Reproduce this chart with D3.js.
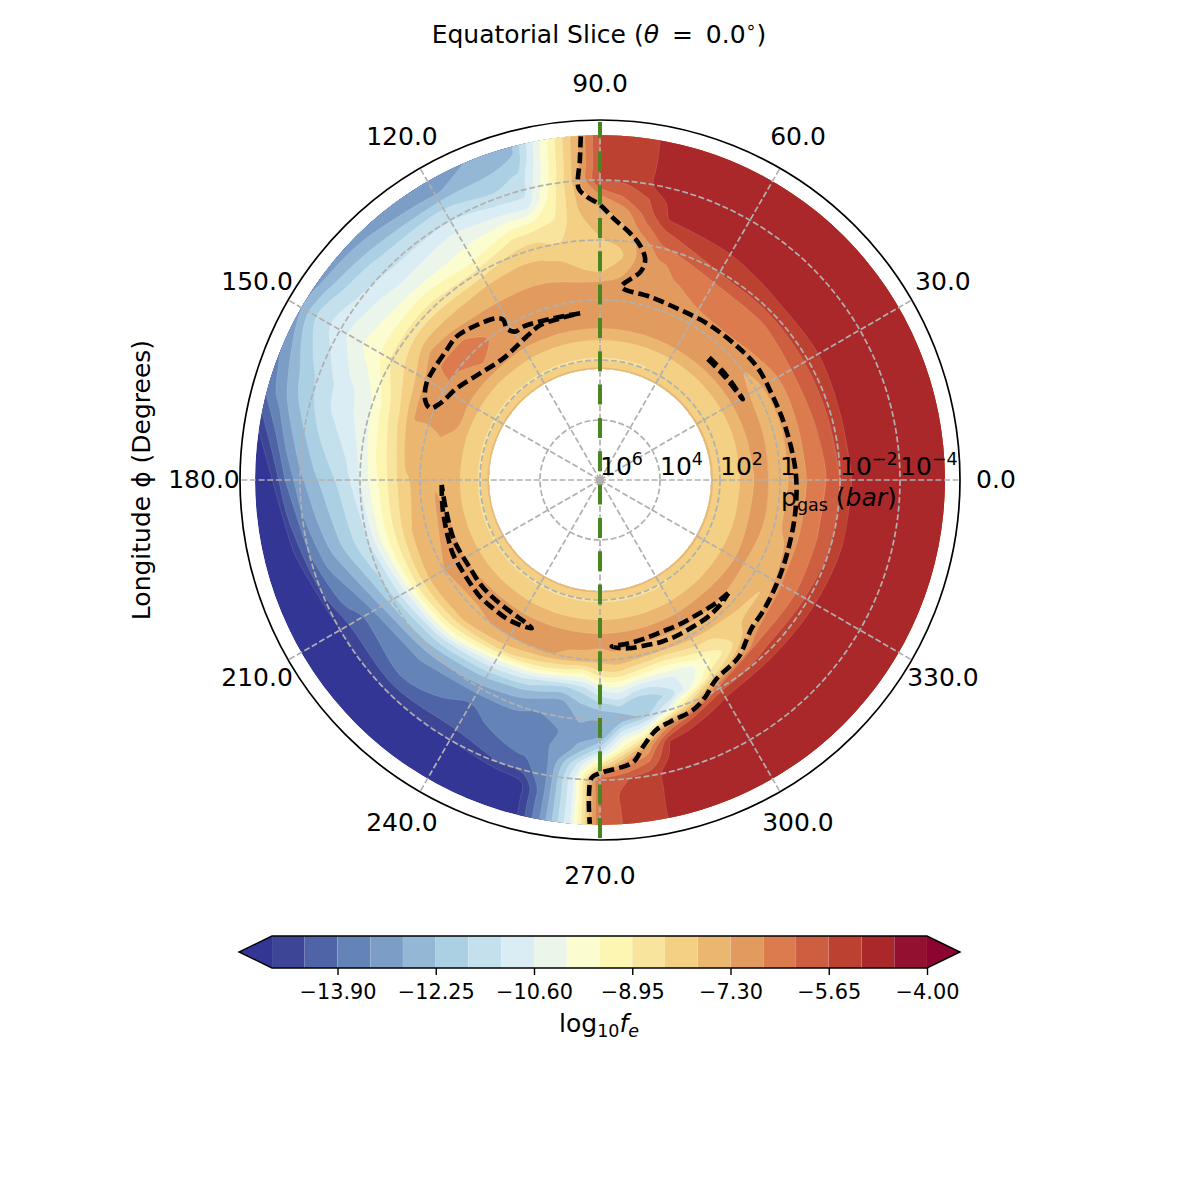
<!DOCTYPE html>
<html>
<head>
<meta charset="utf-8">
<script src="https://cdn.jsdelivr.net/npm/d3@7"></script>
<style>
  html, body { margin: 0; background: #fff; }
  text { font-family: "DejaVu Sans", sans-serif; fill: #000; }
</style>
</head>
<body>
<svg id="chart" width="1200" height="1200"></svg>
<script>
"use strict";

// contour levels of log10 fe, one colour per band plus the two extensions
const levels = [-15, -14.45, -13.9, -13.35, -12.8, -12.25, -11.7, -11.15, -10.6, -10.05,
    -9.5, -8.95, -8.4, -7.85, -7.3, -6.75, -6.2, -5.65, -5.1, -4.55, -4];
const bandColors = ["#3d4696", "#4e64a6", "#6484b8", "#7b9dc6", "#94b7d6", "#acd0e3", "#c4e0ec",
    "#daedf4", "#ebf5ea", "#fbfdd0", "#fdf6b3", "#f8e49d", "#f3d083", "#ebb670", "#e29b5e",
    "#dc7c4e", "#cd5e40", "#bd4131", "#aa272a", "#931030"];
const underColor = "#343695";
const overColor = "#8c0430";

// grid
const logPressure = [4.3, 4, 3.5, 3, 2.5, 2, 1.5, 1, 0.5, 0, -0.5, -1, -1.5, -2, -2.5, -3, -3.5];
const longitudes = [0, 15, 30, 45, 60, 70, 75, 80, 85, 90, 95, 100, 105, 110, 120, 135, 143, 150, 160, 165,
    180, 195, 210, 225, 240, 250, 255, 260, 265, 270, 275, 280, 285, 290, 300, 315, 330, 345];
const logFe = [
    [-7.7, -8.3, -8.1, -7.33, -7.22, -7.55, -7.1, -6.65, -6.25, -5.65, -4.95, -4.75, -4.7, -4.7, -4.7, -4.7, -4.7],
    [-7.7, -8.3, -8.1, -7.33, -7.15, -7.65, -7.05, -6.6, -6.1, -5.5, -4.85, -4.7, -4.7, -4.7, -4.7, -4.7, -4.7],
    [-7.7, -8.3, -8.1, -7.33, -7.1, -7.5, -7.05, -6.6, -6.05, -5.5, -5, -4.75, -4.7, -4.7, -4.7, -4.7, -4.7],
    [-7.7, -8.3, -8.1, -7.33, -7.05, -7.05, -6.75, -6.5, -6.25, -5.5, -5, -4.75, -4.7, -4.7, -4.7, -4.7, -4.7],
    [-7.7, -8.35, -8.1, -7.33, -6.95, -6.9, -6.78, -6.55, -6.35, -5.6, -5.25, -4.85, -4.7, -4.7, -4.7, -4.7, -4.7],
    [-7.7, -8.45, -8.1, -7.33, -7, -6.95, -6.85, -6.8, -6.6, -6.1, -5.4, -4.95, -4.7, -4.7, -4.7, -4.7, -4.7],
    [-7.7, -8.45, -8.1, -7.33, -7, -6.95, -6.9, -6.9, -6.85, -6.3, -5.75, -5.05, -4.85, -4.7, -4.7, -4.7, -4.7],
    [-7.7, -8.45, -8.1, -7.33, -7, -6.95, -6.95, -7, -7.15, -7.1, -6.45, -5.95, -5.65, -5.12, -5.12, -5.12, -5.1],
    [-7.7, -8.45, -8.1, -7.33, -7.05, -7, -7.05, -7.55, -8, -7.7, -7.4, -7, -6.1, -5.55, -5.4, -5.4, -5.4],
    [-7.7, -8.45, -8.1, -7.33, -7.05, -7, -7.1, -7.95, -8.1, -7.9, -7.7, -7.4, -6.75, -5.6, -5.65, -5.65, -5.65],
    [-7.7, -8.45, -8.1, -7.33, -7.05, -7.05, -7.15, -7.8, -8.15, -8.1, -8, -7.9, -7.85, -7.7, -7.75, -7.8, -7.85],
    [-7.7, -8.45, -8.1, -7.33, -7.05, -7.05, -7.2, -7.45, -7.95, -8.4, -8.75, -9.05, -9.25, -9.5, -9.75, -9.85, -10],
    [-7.7, -8.45, -8.1, -7.33, -7.05, -7.05, -7.15, -7.4, -7.8, -8.15, -8.8, -9.7, -10.9, -11.35, -11.6, -12.15, -12.35],
    [-7.7, -8.45, -8.1, -7.33, -7.05, -7, -7.1, -7.4, -7.75, -8.2, -8.9, -9.8, -10.8, -11.5, -12, -12.4, -12.65],
    [-7.7, -8.45, -8.1, -7.33, -7.1, -7, -7.1, -7.4, -7.85, -8.7, -9.65, -10.1, -10.55, -11.2, -11.8, -12.85, -13.1],
    [-7.7, -8.45, -8.1, -7.33, -6.75, -6.55, -6.72, -7.3, -7.95, -8.7, -9.45, -10.3, -10.75, -11.25, -11.75, -12.5, -13.15],
    [-7.7, -8.45, -8.1, -7.33, -7, -6.72, -6.72, -7.15, -8, -8.75, -9.5, -10.1, -10.55, -11.05, -11.5, -12.25, -13.05],
    [-7.7, -8.45, -8.1, -7.33, -7.05, -6.78, -6.85, -7.75, -8.35, -8.85, -9.6, -9.95, -10.4, -10.85, -11.25, -11.8, -12.85],
    [-7.7, -8.45, -8.1, -7.33, -7.1, -7.1, -7.2, -8.25, -9.05, -9.95, -10.45, -10.8, -11.2, -11.6, -12.05, -12.75, -13.5],
    [-7.7, -8.45, -8.1, -7.33, -7.3, -7.55, -7.45, -8.4, -9.25, -10.1, -10.6, -10.95, -11.3, -11.85, -12.35, -13.1, -13.8],
    [-7.7, -8.45, -8.1, -7.33, -7.32, -7.6, -7.95, -8.8, -9.65, -10.6, -11.4, -11.85, -12.35, -12.95, -13.9, -15.2, -16.5],
    [-7.7, -8.45, -8.1, -7.33, -7.25, -7.5, -7.85, -8.8, -9.85, -11.15, -11.8, -12.45, -13.1, -13.95, -15.2, -16.2, -16.8],
    [-7.7, -8.45, -8.1, -7.33, -7.25, -7.3, -7.7, -8.85, -10.7, -12, -12.95, -13.8, -14.2, -15, -16, -16.5, -17],
    [-7.7, -8.45, -8.1, -7.33, -7.2, -7.35, -7.8, -9.2, -11.35, -12.6, -13.35, -13.65, -14.05, -15, -16, -16.5, -17],
    [-7.7, -8.45, -8.1, -7.33, -7.2, -7.25, -8.15, -10.5, -12.05, -13, -13.85, -14.1, -14.3, -15, -16, -16.5, -17],
    [-7.7, -8.45, -8.1, -7.33, -7.2, -7.3, -8.7, -11, -12.45, -13.25, -13.55, -13.7, -14, -14.45, -15.7, -16, -16.5],
    [-7.7, -8.45, -8.1, -7.33, -7.2, -7.3, -9, -11.5, -12.75, -13.35, -13.5, -13.65, -13.85, -14.3, -15.3, -15.4, -15.5],
    [-7.7, -8.45, -8.1, -7.33, -7.2, -7.4, -9.3, -11.8, -12.95, -13.2, -13.4, -13.3, -13.3, -13.3, -13.3, -13.3, -13.3],
    [-7.7, -8.45, -8.1, -7.33, -7.2, -7.45, -9.6, -11.5, -12.3, -12.75, -13, -12.7, -11.3, -10.6, -10.6, -10.6, -10.6],
    [-7.7, -8.45, -8.1, -7.33, -7.2, -7.6, -8.75, -10.6, -11.95, -12.8, -13, -11.4, -8.95, -6, -6, -6.05, -6.1],
    [-7.7, -8.45, -8.1, -7.33, -7.2, -7.4, -8.6, -10.3, -11.55, -12.7, -10.85, -9.25, -7, -5.7, -5.5, -5.5, -5.5],
    [-7.7, -8.45, -8.1, -7.33, -7.2, -7.5, -8.95, -10.8, -12.2, -12.1, -10, -7.3, -6.25, -5.3, -5.25, -5.2, -5.2],
    [-7.7, -8.45, -8.1, -7.33, -7.2, -7.65, -9.2, -10.9, -11.9, -10.9, -7, -5.1, -4.8, -4.75, -4.8, -4.85, -4.85],
    [-7.7, -8.45, -8.1, -7.33, -7.2, -7.7, -9.3, -10.65, -11.05, -8.9, -5.8, -4.75, -4.7, -4.7, -4.7, -4.7, -4.7],
    [-7.7, -8.45, -8.1, -7.33, -7.2, -7.6, -8.6, -9.75, -8.6, -5.9, -4.85, -4.7, -4.7, -4.7, -4.7, -4.7, -4.7],
    [-7.7, -8.35, -8.1, -7.33, -7.2, -7.6, -8.05, -7.5, -6.25, -5.4, -4.75, -4.7, -4.7, -4.7, -4.7, -4.7, -4.7],
    [-7.7, -8.3, -8.1, -7.33, -7.25, -7.7, -7.75, -6.7, -6.25, -5.45, -4.8, -4.7, -4.7, -4.7, -4.7, -4.7, -4.7],
    [-7.7, -8.3, -8.1, -7.33, -7.2, -7.55, -7.1, -6.65, -6.2, -5.65, -4.9, -4.7, -4.7, -4.7, -4.7, -4.7, -4.7]
];

// black dashed contours, longitude and log10 pressure
const mainLon = [93.2, 93.6, 94.2, 92.7, 90, 87, 83, 80.3, 78.4, 79, 83.6, 74.7, 64.8, 55.8, 45.7, 35.9, 25.7, 15, 2,
    350.3, 338.6, 329.7, 321.5, 315.6, 312.5, 308, 300, 296, 292, 286.2, 282.8, 279.2, 276.7, 270, 268.4, 268, 268.3];
const mainP = [-3.47, -2.69, -1.75, -1.46, -1.17, -0.73, -0.28, 0.07, 0.51, 0.93, 1.52, 1.67, 1.73, 1.68, 1.63, 1.55, 1.6, 1.57, 1.47,
    1.4, 1.3, 1.17, 1.03, 0.93, 0.77, 0.5, 0.3, -0.03, -0.27, -0.39, -0.53, -1, -1.47, -1.77, -1.93, -2.57, -3.47];
const upperLon = [96.8, 106.1, 116.6, 119.8, 121.6, 121.1, 122.6, 129.6, 135, 139.7, 146.6, 150.9, 155.4, 157.1, 154.4, 147.4, 138.4, 128.5, 117.1, 111.2, 103.9, 96.8];
const upperP = [2.4, 2.39, 2.28, 2.3, 2.07, 1.77, 1.6, 1.37, 1.24, 1.3, 1.34, 1.38, 1.59, 1.85, 2.09, 2.33, 2.65, 2.82, 2.63, 2.47, 2.45, 2.4];
const rightLon = [48.3, 40.8, 29.5, 40.8, 48.3];
const rightP = [2.53, 2.53, 2.53, 2.6, 2.6];
const leftLon = [181.8, 190.2, 201, 207, 213, 218.5, 224.2, 230.3, 236, 241.1, 245.3, 242.9, 237.8, 231.8, 225.4, 219.9, 214.2, 208.5, 201.7, 191, 181.8];
const leftP = [2.72, 2.67, 2.58, 2.51, 2.5, 2.47, 2.42, 2.43, 2.43, 2.48, 2.56, 2.63, 2.68, 2.7, 2.7, 2.72, 2.77, 2.76, 2.74, 2.77, 2.72];
const lowerLon = [318.6, 312.8, 305.6, 298.4, 292.1, 285.9, 279.8, 274, 279.6, 285.8, 290.9, 296.8, 302.5, 308.4, 314.6, 318.6];
const lowerP = [2.3, 2.37, 2.47, 2.51, 2.54, 2.51, 2.47, 2.43, 2.31, 2.28, 2.23, 2.21, 2.21, 2.19, 2.23, 2.3];

// axes
const lonTicks = d3.range(0, 360, 30);
const pTickExp = [6, 4, 2, 0, -2, -4];
const feTicks = [-13.9, -12.25, -10.6, -8.95, -7.3, -5.65, -4];
const lonMarker = [270, 90];

const svg = d3.select("#chart");
const cx = 600, cy = 480;

// pressure falls outwards, 1e8 bar sits at the centre
const rScale = d3.scaleLinear().domain([8, -4]).range([0, 360]);
const toAngle = lon => (90 - lon) * Math.PI / 180;
const plot = svg.append("g").attr("transform", `translate(${cx},${cy})`);

const radial = d3.lineRadial()
    .angle(d => toAngle(d[0]))
    .radius(d => rScale(d[1]));

// longitude wraps, so repeat rows past each end to keep contours continuous over 0/360
const wrapLons = [longitudes[longitudes.length - 1] - 360].concat(longitudes, 360, longitudes[1] + 360);
const wrapRows = [logFe[logFe.length - 1]].concat(logFe, [logFe[0]], [logFe[1]]);

const nx = wrapLons.length, ny = logPressure.length;
const flat = [];
for (let j = 0; j < ny; j++) for (let i = 0; i < nx; i++) flat.push(wrapRows[i][j]);

const lonOfIndex = d3.scaleLinear().domain(d3.range(nx)).range(wrapLons).clamp(true);
const pOfIndex = d3.scaleLinear().domain(d3.range(ny)).range(logPressure).clamp(true);

const thresholds = levels.slice(0, -1);

const closedLine = d3.lineRadial()
    .angle(d => toAngle(d.lon))
    .radius(d => rScale(d.p))
    .curve(d3.curveCatmullRomClosed.alpha(0.5));
const openLine = d3.lineRadial()
    .angle(d => toAngle(d.lon))
    .radius(d => rScale(d.p))
    .curve(d3.curveCatmullRom.alpha(0.5));
const project = d => d3.pointRadial(toAngle(d.lon), rScale(d.p)).join(",");

// contour coordinates to data, flagging the vertices that sit on the edge of the grid
function ringPoints(ring) {
    return ring.slice(0, -1).map(q => {
        const ix = q[0] - 0.5, iy = q[1] - 0.5;
        return {
            lon: lonOfIndex(ix),
            p: pOfIndex(iy),
            edge: ix <= 0 || ix >= nx - 1 || iy <= 0 || iy >= ny - 1
        };
    });
}

// open runs between grid-edge vertices; the edges themselves stay out of these
function ringRuns(pts) {
    const start = pts.findIndex(d => d.edge);
    if (start < 0) return { closed: pts, runs: [], order: pts };
    const order = pts.slice(start).concat(pts.slice(0, start), [pts[start]]);
    const runs = [];
    let run = [order[0]];
    for (let k = 1; k < order.length; k++) {
        if (order[k - 1].edge && order[k].edge) {
            if (run.length > 1) runs.push(run);
            run = [order[k]];
        } else {
            run.push(order[k]);
        }
    }
    if (run.length > 1) runs.push(run);
    return { closed: null, runs: runs, order: order };
}

// curved inside the grid, short straight pieces along its edge so they follow the arcs
function ringToPath(ring) {
    const pts = ringPoints(ring);
    const split = ringRuns(pts);
    if (split.closed) return closedLine(split.closed);
    const order = split.order;
    let path = "M" + project(order[0]);
    let run = [order[0]];
    const flush = () => {
        if (run.length > 1) path += openLine(run).replace(/^M[^CL]*/, "");
    };
    for (let k = 1; k < order.length; k++) {
        const a = order[k - 1], b = order[k];
        if (a.edge && b.edge) {
            flush();
            const n = Math.max(1, Math.ceil(Math.abs(b.lon - a.lon) / 2));
            for (let s = 1; s <= n; s++) {
                path += "L" + project({ lon: a.lon + (b.lon - a.lon) * s / n, p: a.p + (b.p - a.p) * s / n });
            }
            run = [b];
        } else {
            run.push(b);
        }
    }
    flush();
    return path + "Z";
}

// faint seam along each contour, only once over the repeated sector
function ringToSeam(ring) {
    const split = ringRuns(ringPoints(ring));
    if (split.closed) {
        const inside = split.closed.every(d => d.lon >= 0 && d.lon <= 360);
        return inside ? closedLine(split.closed) : "";
    }
    return split.runs
        .map(run => run.filter(d => d.lon >= 0 && d.lon <= 360))
        .filter(run => run.length > 1)
        .map(run => openLine(run))
        .join("");
}

// the smoothed rings overshoot the data edge a little, the annulus trims that
const annulus = d3.arc()
    .innerRadius(rScale(logPressure[0]))
    .outerRadius(rScale(logPressure[ny - 1]))
    .startAngle(0)
    .endAngle(2 * Math.PI);
svg.append("defs").append("clipPath").attr("id", "data-ring")
    .append("path").attr("d", annulus());

const bands = d3.contours().size([nx, ny]).thresholds(thresholds)(flat);
const fillGroup = plot.append("g").attr("clip-path", "url(#data-ring)");
fillGroup.append("path").attr("d", annulus()).attr("fill", underColor);
fillGroup.selectAll("path.band")
    .data(bands)
    .join("path")
    .attr("class", "band")
    .attr("fill", (d, i) => bandColors[i])
    .attr("d", d => d.coordinates.map(poly => poly.map(ringToPath).join("")).join(""));
fillGroup.selectAll("path.seam")
    .data(bands)
    .join("path")
    .attr("class", "seam")
    .attr("fill", "none")
    .attr("stroke", "#fff")
    .attr("stroke-opacity", 0.2)
    .attr("stroke-width", 0.6)
    .attr("d", d => d.coordinates.map(poly => poly.map(ringToSeam).join("")).join(""));

// grid
const gridColor = "#b0b0b0";
const grid = plot.append("g")
    .attr("fill", "none")
    .attr("stroke", gridColor)
    .attr("stroke-width", 1.7)
    .attr("stroke-dasharray", "6 2.6");

grid.selectAll("circle")
    .data(pTickExp.slice(0, -1))
    .join("circle")
    .attr("r", d => rScale(d));

grid.selectAll("path")
    .data(lonTicks)
    .join("path")
    .attr("d", d => radial.curve(d3.curveLinear)([[d, 8], [d, -4]]));

plot.append("circle").attr("r", 4).attr("fill", gridColor);

// outer frame
plot.append("circle")
    .attr("r", rScale(-4))
    .attr("fill", "none")
    .attr("stroke", "#000")
    .attr("stroke-width", 1.7);

// black dashed contours
const blackLines = [[mainLon, mainP], [upperLon, upperP], [rightLon, rightP], [leftLon, leftP], [lowerLon, lowerP]];
plot.append("g").selectAll("path")
    .data(blackLines)
    .join("path")
    .attr("fill", "none")
    .attr("stroke", "#000")
    .attr("stroke-width", 4.6)
    .attr("stroke-dasharray", "11 5")
    .attr("d", d => radial.curve(d3.curveCatmullRom.alpha(0.5))(d[0].map((lon, i) => [lon, d[1][i]])));

// green substellar meridian
plot.append("path")
    .attr("fill", "none")
    .attr("stroke", "#4a8522")
    .attr("stroke-width", 4)
    .attr("stroke-dasharray", "20 13.33")
    .attr("d", radial.curve(d3.curveLinear)([[lonMarker[0], -3.93], [lonMarker[0], 8], [lonMarker[1], -3.93]]));

// longitude labels
const labelR = rScale(-4) * 1.1;
svg.append("g").selectAll("text")
    .data(lonTicks)
    .join("text")
    .attr("text-anchor", "middle")
    .attr("font-size", 25)
    .attr("x", d => cx + labelR * Math.cos(d * Math.PI / 180))
    .attr("y", d => cy - labelR * Math.sin(d * Math.PI / 180) + 8)
    .text(d => d.toFixed(1));

// pressure labels
const pLabels = plot.append("g").selectAll("text")
    .data(pTickExp)
    .join("text")
    .attr("font-size", 25)
    .attr("x", d => rScale(d) - 60)
    .attr("y", -5);
pLabels.filter(d => d === 0).text("1");
pLabels.filter(d => d !== 0).each(function (d) {
    const t = d3.select(this);
    t.append("tspan").text("10");
    t.append("tspan").attr("font-size", 17.5).attr("dy", -10)
        .text(String(d).replace("-", "\u2212"));
});

const pTitle = svg.append("text")
    .attr("x", 781).attr("y", 506).attr("font-size", 25);
pTitle.append("tspan").text("p");
pTitle.append("tspan").attr("font-size", 17.5).attr("dy", 5).text("gas");
pTitle.append("tspan").attr("dy", -5).text("\u00a0(");
pTitle.append("tspan").attr("font-style", "italic").text("bar");
pTitle.append("tspan").text(")");

// title
const title = svg.append("text")
    .attr("x", 599).attr("y", 43)
    .attr("text-anchor", "middle")
    .attr("font-size", 25);
title.append("tspan").text("Equatorial Slice (");
title.append("tspan").attr("font-style", "italic").text("\u03b8");
title.append("tspan").text("\u00a0\u2009=\u00a0\u20090.0");
title.append("tspan").attr("font-size", 17.5).attr("dy", -10).text("\u2218");
title.append("tspan").attr("dy", 10).text(")");

svg.append("text")
    .attr("transform", "translate(150,480) rotate(-90)")
    .attr("text-anchor", "middle")
    .attr("font-size", 25)
    .text("Longitude \u03d5 (Degrees)");

// colorbar
const cbTop = 936, cbBottom = 968, cbMid = (cbTop + cbBottom) / 2, cbExtend = 33;
const cbScale = d3.scaleLinear().domain([-15, -4]).range([272, 927]);
const cb = svg.append("g");

cb.selectAll("rect")
    .data(bandColors)
    .join("rect")
    .attr("x", (d, i) => cbScale(levels[i]))
    .attr("width", (d, i) => cbScale(levels[i + 1]) - cbScale(levels[i]))
    .attr("y", cbTop)
    .attr("height", cbBottom - cbTop)
    .attr("fill", d => d)
    .attr("stroke", "#fff")
    .attr("stroke-opacity", 0.15)
    .attr("stroke-width", 0.6);

const x0 = cbScale.range()[0], x1 = cbScale.range()[1];
cb.append("path")
    .attr("fill", underColor)
    .attr("d", `M${x0},${cbTop}L${x0 - cbExtend},${cbMid}L${x0},${cbBottom}Z`);
cb.append("path")
    .attr("fill", overColor)
    .attr("d", `M${x1},${cbTop}L${x1 + cbExtend},${cbMid}L${x1},${cbBottom}Z`);
cb.append("path")
    .attr("fill", "none")
    .attr("stroke", "#000")
    .attr("stroke-width", 1.4)
    .attr("d", `M${x0},${cbTop}H${x1}L${x1 + cbExtend},${cbMid}L${x1},${cbBottom}H${x0}L${x0 - cbExtend},${cbMid}Z`);

const cbAxis = svg.append("g")
    .attr("transform", `translate(0,${cbBottom})`)
    .call(d3.axisBottom(cbScale)
        .tickValues(feTicks)
        .tickSize(7)
        .tickPadding(9)
        .tickFormat(d => "\u2212" + Math.abs(d).toFixed(2)));
cbAxis.select(".domain").remove();
cbAxis.selectAll("line").attr("stroke", "#000").attr("stroke-width", 1.4);
cbAxis.selectAll("text").attr("font-size", 20.83).attr("font-family", "DejaVu Sans");

const cbLabel = svg.append("text")
    .attr("x", 599).attr("y", 1032)
    .attr("text-anchor", "middle")
    .attr("font-size", 25);
cbLabel.append("tspan").text("log");
cbLabel.append("tspan").attr("font-size", 17.5).attr("dy", 5).text("10");
cbLabel.append("tspan").attr("dy", -5).attr("font-style", "italic").text("f");
cbLabel.append("tspan").attr("dy", 5).attr("font-size", 17.5).attr("font-style", "italic").text("e");
</script>
</body>
</html>
